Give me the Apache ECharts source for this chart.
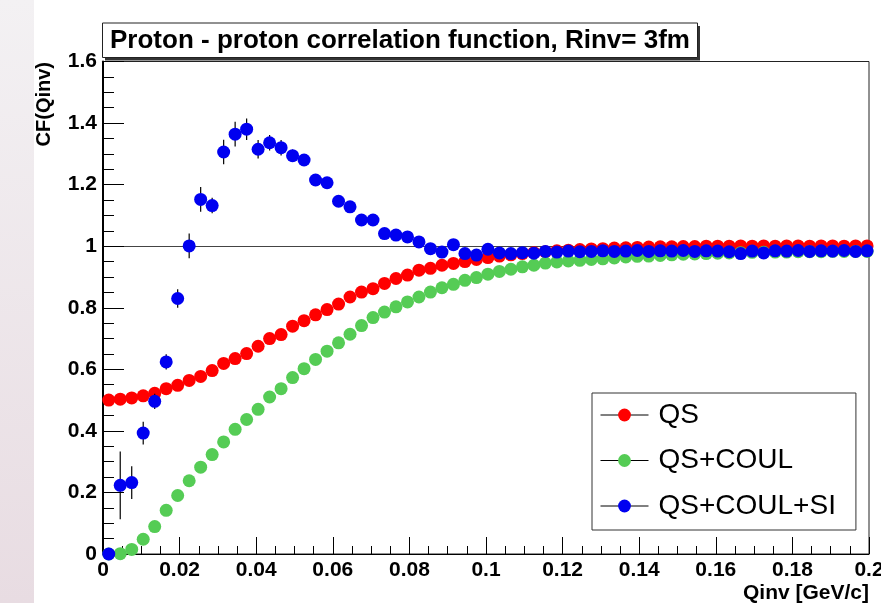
<!DOCTYPE html>
<html>
<head>
<meta charset="utf-8">
<title>Proton - proton correlation function</title>
<script src="https://cdn.jsdelivr.net/npm/echarts@6/dist/echarts.min.js"></script>
<style>
  html, body { margin: 0; padding: 0; background: #ffffff; }
  #chart { width: 881px; height: 603px; }
</style>
</head>
<body>
<div id="chart"></div>
<script>
// Bin centres of Qinv [GeV/c] (bin width 0.003)
const qinv = [
  0.0015, 0.0045, 0.0075, 0.0105, 0.0135, 0.0165, 0.0195, 0.0225, 0.0255, 0.0285,
  0.0315, 0.0345, 0.0375, 0.0405, 0.0435, 0.0465, 0.0495, 0.0525, 0.0555, 0.0585,
  0.0615, 0.0645, 0.0675, 0.0705, 0.0735, 0.0765, 0.0795, 0.0825, 0.0855, 0.0885,
  0.0915, 0.0945, 0.0975, 0.1005, 0.1035, 0.1065, 0.1095, 0.1125, 0.1155, 0.1185,
  0.1215, 0.1245, 0.1275, 0.1305, 0.1335, 0.1365, 0.1395, 0.1425, 0.1455, 0.1485,
  0.1515, 0.1545, 0.1575, 0.1605, 0.1635, 0.1665, 0.1695, 0.1725, 0.1755, 0.1785,
  0.1815, 0.1845, 0.1875, 0.1905, 0.1935, 0.1965, 0.1995
];

// Quantum statistics only
const cfQS = [
  0.500, 0.503, 0.507, 0.514, 0.522, 0.537, 0.548, 0.564, 0.577, 0.596,
  0.619, 0.635, 0.651, 0.675, 0.700, 0.713, 0.740, 0.758, 0.777, 0.794,
  0.812, 0.835, 0.851, 0.862, 0.879, 0.895, 0.906, 0.922, 0.928, 0.938,
  0.944, 0.950, 0.957, 0.963, 0.968, 0.972, 0.976, 0.979, 0.982, 0.985,
  0.987, 0.989, 0.991, 0.992, 0.994, 0.995, 0.996, 0.997, 0.998, 0.998,
  0.999, 0.999, 1.000, 1.000, 1.000, 1.001, 1.000, 1.001, 1.000, 1.001,
  1.001, 1.000, 1.001, 1.001, 1.000, 1.001, 1.001
];

// Quantum statistics + Coulomb
const cfQSCoul = [
  0.000, 0.001, 0.015, 0.048, 0.089, 0.142, 0.190, 0.238, 0.282, 0.323,
  0.364, 0.405, 0.437, 0.470, 0.510, 0.537, 0.573, 0.602, 0.632, 0.659,
  0.686, 0.714, 0.742, 0.768, 0.786, 0.803, 0.819, 0.835, 0.851, 0.865,
  0.876, 0.889, 0.898, 0.909, 0.918, 0.925, 0.933, 0.938, 0.945, 0.949,
  0.952, 0.954, 0.957, 0.959, 0.962, 0.965, 0.967, 0.968, 0.970, 0.972,
  0.974, 0.975, 0.976, 0.977, 0.978, 0.979, 0.980, 0.980, 0.981, 0.981,
  0.982, 0.982, 0.982, 0.983, 0.983, 0.983, 0.983
];

// Quantum statistics + Coulomb + strong interaction
const cfQSCoulSI = [
  0.000, 0.223, 0.232, 0.393, 0.496, 0.624, 0.830, 1.001, 1.152, 1.132,
  1.306, 1.364, 1.380, 1.315, 1.336, 1.320, 1.294, 1.280, 1.215, 1.206,
  1.146, 1.128, 1.085, 1.085, 1.041, 1.036, 1.030, 1.014, 0.992, 0.981,
  1.005, 0.976, 0.971, 0.990, 0.978, 0.976, 0.979, 0.977, 0.983, 0.981,
  0.984, 0.982, 0.983, 0.985, 0.983, 0.984, 0.986, 0.983, 0.985, 0.984,
  0.986, 0.983, 0.985, 0.984, 0.982, 0.976, 0.984, 0.978, 0.985, 0.984,
  0.986, 0.983, 0.985, 0.984, 0.986, 0.983, 0.985
];

// Statistical errors of the QS+COUL+SI points
const errQSCoulSI = [
  0.000, 0.110, 0.053, 0.037, 0.025, 0.025, 0.030, 0.040, 0.040, 0.025,
  0.040, 0.040, 0.035, 0.030, 0.025, 0.025, 0.020, 0.015, 0.012, 0.012,
  0.010, 0.010, 0.010, 0.010, 0.009, 0.009, 0.009, 0.009, 0.008, 0.008,
  0.008, 0.008, 0.008, 0.008, 0.007, 0.007, 0.007, 0.007, 0.007, 0.007,
  0.006, 0.006, 0.006, 0.006, 0.006, 0.006, 0.006, 0.006, 0.006, 0.006,
  0.005, 0.005, 0.005, 0.005, 0.005, 0.005, 0.005, 0.005, 0.005, 0.005,
  0.005, 0.005, 0.005, 0.005, 0.005, 0.005, 0.005
];

const seriesNames = ['QS', 'QS+COUL', 'QS+COUL+SI'];
const seriesColors = ['#ff0000', '#55cc55', '#0000f0'];
const titleText = 'Proton - proton correlation function, Rinv= 3fm';
const xTitle = 'Qinv [GeV/c]';
const yTitle = 'CF(Qinv)';

const FONT = "'Liberation Sans', Arial, Helvetica, sans-serif";

function points(values) {
  return qinv.map((q, i) => [q, values[i]]);
}

function markerSeries(name, values, color, z) {
  return {
    name: name,
    type: 'line',
    data: points(values),
    symbol: 'circle',
    symbolSize: 13,
    showSymbol: true,
    showAllSymbol: true,
    lineStyle: { width: 0, opacity: 0 },
    itemStyle: { color: color, opacity: 1 },
    emphasis: { disabled: true },
    clip: false,
    silent: true,
    z: z
  };
}

// Only the line at CF = 1 (sixth grid line) is drawn
const splitColors = ['rgba(0,0,0,0)', 'rgba(0,0,0,0)', 'rgba(0,0,0,0)', 'rgba(0,0,0,0)',
  'rgba(0,0,0,0)', '#444444', 'rgba(0,0,0,0)', 'rgba(0,0,0,0)', 'rgba(0,0,0,0)'];

const chart = echarts.init(document.getElementById('chart'), null, { renderer: 'canvas' });

chart.setOption({
  animation: false,
  backgroundColor: '#ffffff',
  grid: {
    left: 103, right: 12, top: 61.5, bottom: 49,
    show: true, borderColor: '#222222', borderWidth: 1,
    backgroundColor: 'rgba(0,0,0,0)',
    containLabel: false, outerBoundsMode: 'none'
  },
  xAxis: {
    type: 'value', min: 0, max: 0.2, interval: 0.02,
    axisLine: { show: true, onZero: false, lineStyle: { color: '#000', width: 1 } },
    axisTick: { show: true, inside: true, length: 17, lineStyle: { color: '#000', width: 1 } },
    minorTick: { show: true, splitNumber: 4, length: 8, lineStyle: { color: '#000', width: 1 } },
    axisLabel: { fontFamily: FONT, fontWeight: 'bold', fontSize: 21, color: '#000', margin: 6, hideOverlap: false },
    splitLine: { show: false }
  },
  yAxis: {
    type: 'value', min: 0, max: 1.6, interval: 0.2,
    axisLine: { show: true, onZero: false, lineStyle: { color: '#000', width: 2 } },
    axisTick: { show: true, inside: true, length: 21, lineStyle: { color: '#000', width: 1 } },
    minorTick: { show: true, splitNumber: 4, length: 11, lineStyle: { color: '#000', width: 1 } },
    axisLabel: { fontFamily: FONT, fontWeight: 'bold', fontSize: 21, color: '#000', margin: 6, hideOverlap: false },
    splitLine: { show: true, lineStyle: { color: splitColors, width: 1 } }
  },
  legend: {
    data: seriesNames,
    orient: 'vertical',
    left: 592, top: 393,
    padding: [7, 20, 9, 8],
    itemGap: 15.5,
    itemWidth: 48, itemHeight: 16,
    backgroundColor: '#ffffff',
    borderColor: '#333333', borderWidth: 1, borderRadius: 0,
    selectedMode: false,
    textStyle: { fontFamily: FONT, fontSize: 28, color: '#000', lineHeight: 30, padding: [0, 0, 0, 5] },
    lineStyle: { color: '#000', width: 1, opacity: 1, type: 'solid' },
    itemStyle: { opacity: 1 }
  },
  series: [
    markerSeries(seriesNames[0], cfQS, seriesColors[0], 3),
    markerSeries(seriesNames[1], cfQSCoul, seriesColors[1], 3),
    {
      type: 'custom',
      name: 'errors',
      data: qinv.map((q, i) => [q, cfQSCoulSI[i], errQSCoulSI[i]]),
      encode: { x: 0, y: 1 },
      clip: false,
      silent: true,
      z: 4,
      renderItem: function (params, api) {
        const q = api.value(0), v = api.value(1), e = api.value(2);
        if (!e) return null;
        const lo = api.coord([q, v - e]);
        const hi = api.coord([q, v + e]);
        return {
          type: 'line',
          shape: { x1: lo[0], y1: lo[1], x2: hi[0], y2: hi[1] },
          style: { stroke: '#000', lineWidth: 1.2 }
        };
      }
    },
    markerSeries(seriesNames[2], cfQSCoulSI, seriesColors[2], 5)
  ],
  graphic: [
    {
      type: 'rect', z: -10, silent: true,
      shape: { x: 0, y: 0, width: 34, height: 603 },
      style: {
        fill: new echarts.graphic.LinearGradient(0, 0, 0, 1, [
          { offset: 0, color: '#f3f1f3' },
          { offset: 1, color: '#e8dce2' }
        ])
      }
    },
    {
      type: 'rect', z: 10, silent: true,
      shape: { x: 105, y: 26, width: 595, height: 34.5 },
      style: { fill: '#333333' }
    },
    {
      type: 'rect', z: 11, silent: true,
      shape: { x: 102.5, y: 23, width: 595, height: 34.5 },
      style: { fill: '#ffffff', stroke: '#222222', lineWidth: 1 }
    },
    {
      type: 'text', z: 12, silent: true,
      x: 400, y: 41,
      style: {
        text: titleText, fill: '#000',
        font: 'bold 26px ' + FONT,
        textAlign: 'center', textVerticalAlign: 'middle'
      }
    },
    {
      type: 'text', z: 12, silent: true,
      x: 44, y: 62, rotation: Math.PI / 2,
      style: {
        text: yTitle, fill: '#000',
        font: 'bold 20px ' + FONT,
        textAlign: 'right', textVerticalAlign: 'middle'
      }
    },
    {
      type: 'text', z: 12, silent: true,
      x: 869, y: 593,
      style: {
        text: xTitle, fill: '#000',
        font: 'bold 21px ' + FONT,
        textAlign: 'right', textVerticalAlign: 'middle'
      }
    }
  ]
});
</script>
</body>
</html>
